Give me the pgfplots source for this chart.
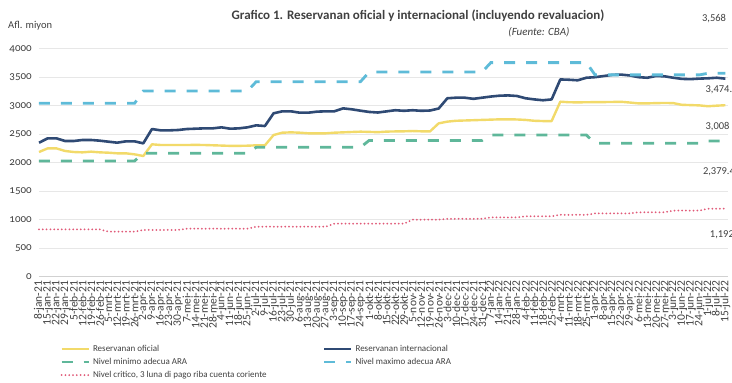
\documentclass[border=0pt]{standalone}
\usepackage{fontspec}
\setmainfont{Carlito}
\usepackage{pgfplots}
\pgfplotsset{compat=1.18}
\usepackage{pgfplotstable}
\definecolor{cofi}{HTML}{F2DA6A}
\definecolor{cint}{HTML}{2F4A74}
\definecolor{cmin}{HTML}{5FB79A}
\definecolor{cmax}{HTML}{5EBBD8}
\definecolor{ccrit}{HTML}{E05A78}
\definecolor{cgrid}{HTML}{E7E7E7}
\definecolor{ctext}{HTML}{404040}
\pgfplotstableread{
i ofi int min max crit
0 2187 2350 2030 3041 830
1 2251 2427 2030 3041 830
2 2251 2427 2030 3041 830
3 2205 2380 2030 3041 830
4 2187 2380 2030 3041 830
5 2181 2398 2030 3041 830
6 2193 2398 2030 3041 830
7 2181 2386 2030 3041 830
8 2175 2368 2030 3041 790
9 2164 2351 2030 3041 790
10 2164 2374 2030 3041 790
11 2146 2374 2030 3041 790
12 2117 2339 2165 3257 819
13 2322 2590 2165 3257 819
14 2310 2567 2165 3257 819
15 2310 2567 2165 3257 819
16 2310 2573 2165 3257 819
17 2310 2590 2165 3257 842
18 2312 2596 2165 3257 842
19 2310 2602 2165 3257 842
20 2305 2602 2165 3257 842
21 2300 2620 2165 3257 842
22 2295 2596 2165 3257 842
23 2295 2602 2165 3257 842
24 2298 2620 2165 3257 842
25 2304 2655 2270 3421 877
26 2304 2643 2270 3421 877
27 2485 2866 2270 3421 877
28 2526 2901 2270 3421 877
29 2532 2901 2270 3421 877
30 2526 2877 2270 3421 877
31 2515 2877 2270 3421 877
32 2515 2895 2270 3421 877
33 2515 2901 2270 3421 877
34 2526 2901 2270 3421 930
35 2532 2953 2270 3421 930
36 2538 2936 2270 3421 930
37 2544 2912 2270 3421 930
38 2540 2890 2390 3590 930
39 2535 2880 2390 3590 930
40 2545 2900 2390 3590 930
41 2548 2920 2390 3590 930
42 2550 2910 2390 3590 930
43 2555 2920 2390 3590 1000
44 2550 2910 2390 3590 1000
45 2548 2915 2390 3590 1000
46 2690 2950 2390 3590 1000
47 2720 3130 2390 3590 1015
48 2735 3140 2390 3590 1015
49 2740 3140 2390 3590 1015
50 2745 3120 2390 3590 1015
51 2750 3140 2390 3590 1015
52 2755 3160 2485 3755 1040
53 2760 3175 2485 3755 1040
54 2760 3180 2485 3755 1040
55 2758 3170 2485 3755 1040
56 2750 3130 2485 3755 1060
57 2735 3110 2485 3755 1060
58 2730 3095 2485 3755 1060
59 2730 3110 2485 3755 1060
60 3070 3460 2485 3755 1085
61 3060 3455 2485 3755 1085
62 3058 3445 2485 3755 1085
63 3060 3490 2485 3755 1085
64 3062 3500 2340 3540 1110
65 3063 3520 2340 3540 1110
66 3065 3540 2340 3540 1110
67 3068 3545 2340 3540 1110
68 3055 3530 2340 3540 1110
69 3040 3500 2340 3540 1130
70 3040 3490 2340 3540 1130
71 3045 3520 2340 3540 1130
72 3047 3515 2340 3540 1130
73 3045 3490 2340 3540 1160
74 3015 3470 2340 3540 1160
75 3010 3465 2340 3540 1160
76 3005 3475 2340 3540 1160
77 2990 3480 2379 3568 1192
78 3000 3490 2379 3568 1192
79 3008 3474 2379 3568 1192
}\data
\begin{document}
\begin{tikzpicture}
\useasboundingbox (-39pt,-106.33pt) rectangle (693pt,276.67pt);
\begin{axis}[
  width=689pt, height=228pt, scale only axis,
  xmin=0, xmax=79.3, ymin=0, ymax=4000,
  axis x line*=bottom, axis y line*=left,
  x axis line style={draw=black!18, line width=0.6pt, -},
  y axis line style={draw=none},
  ytick={0,500,...,4000},
  ymajorgrids, grid style={draw=cgrid, line width=0.6pt},
  major tick length=0pt,
  /pgf/number format/assume math mode=true,
  /pgf/number format/set thousands separator={},
  yticklabel style={font=\fontsize{11}{12}\selectfont\addfontfeatures{Numbers=OldStyle}, text=ctext, anchor=east, inner sep=0pt},
  yticklabel shift=7pt,
  xtick={0,...,79},
  xticklabels={8-jan-21,15-jan-21,22-jan-21,29-jan-21,5-feb-21,12-feb-21,19-feb-21,26-feb-21,5-mrt-21,12-mrt-21,19-mrt-21,26-mrt-21,2-apr-21,9-apr-21,16-apr-21,23-apr-21,30-apr-21,7-mei-21,14-mei-21,21-mei-21,28-mei-21,4-jun-21,11-jun-21,18-jun-21,25-jun-21,2-jul-21,9-jul-21,16-jul-21,23-jul-21,30-jul-21,6-aug-21,13-aug-21,20-aug-21,27-aug-21,3-sep-21,10-sep-21,17-sep-21,24-sep-21,1-okt-21,8-okt-21,15-okt-21,22-okt-21,29-okt-21,5-nov-21,12-nov-21,19-nov-21,26-nov-21,3-dec-21,10-dec-21,17-dec-21,24-dec-21,31-dec-21,7-jan-22,14-jan-22,21-jan-22,28-jan-22,4-feb-22,11-feb-22,18-feb-22,25-feb-22,4-mrt-22,11-mrt-22,18-mrt-22,25-mrt-22,1-apr-22,8-apr-22,15-apr-22,22-apr-22,29-apr-22,6-mei-22,13-mei-22,20-mei-22,27-mei-22,3-jun-22,10-jun-22,17-jun-22,24-jun-22,1-jul-22,8-jul-22,15-jul-22},
  xticklabel style={rotate=90, anchor=east, inner sep=0pt, font=\fontsize{11.5}{11.5}\selectfont, text=ctext},
  xticklabel shift=4pt,
  clip=false,
  legend columns=2,
  legend cell align=left,
  legend image code/.code={\draw[#1] (0pt,0pt) -- (27pt,0pt);},
  legend style={at={(0.0305,-0.295)}, anchor=north west, draw=none, fill=none,
    font=\fontsize{9}{10}\selectfont, text=ctext, inner sep=0pt,
    row sep=3.3pt,
    nodes={inner sep=1pt},
    /tikz/every odd column/.append style={column sep=2pt},
    /tikz/every even column/.append style={column sep=55pt}},
]
\addplot[cofi, line width=2.4pt, line join=round] table[x=i, y=ofi] {\data};
\addlegendentry{Reservanan oficial}
\addplot[cint, line width=2.6pt, line join=round] table[x=i, y=int] {\data};
\addlegendentry{Reservanan internacional}
\addplot[cmin, line width=2.8pt, dash pattern=on 11pt off 11pt] table[x=i, y=min] {\data};
\addlegendentry{Nivel minimo adecua ARA}
\addplot[cmax, line width=2.8pt, dash pattern=on 11pt off 11pt] table[x=i, y=max] {\data};
\addlegendentry{Nivel maximo adecua ARA}
\addplot[ccrit, line width=2pt, line cap=round, dash pattern=on 0pt off 3.8pt] table[x=i, y=crit] {\data};
\addlegendentry{Nivel critico, 3 luna di pago riba cuenta coriente}
\node[anchor=west, inner sep=0pt, font=\fontsize{10.5}{12}\selectfont, text=ctext] at (axis cs:76.3,4520) {3,568};
\node[anchor=west, inner sep=0pt, font=\fontsize{10.5}{12}\selectfont, text=ctext] at (axis cs:76.7,3275) {3,474.4};
\node[anchor=west, inner sep=0pt, font=\fontsize{10.5}{12}\selectfont, text=ctext] at (axis cs:76.7,2626) {3,008};
\node[anchor=west, inner sep=0pt, font=\fontsize{10.5}{12}\selectfont, text=ctext] at (axis cs:76.4,1836) {2,379.4};
\node[anchor=west, inner sep=0pt, font=\fontsize{10.5}{12}\selectfont, text=ctext] at (axis cs:77.2,731) {1,192};
\end{axis}
\node[font=\bfseries\fontsize{13}{15}\selectfont, text=ctext] at (379pt,260.67pt) {Grafico 1. Reservanan oficial y internacional (incluyendo revaluacion)};
\node[font=\itshape\fontsize{11}{13}\selectfont, text=ctext] at (500pt,244.4pt) {(Fuente: CBA)};
\node[anchor=west, inner sep=0pt, font=\fontsize{10.5}{12}\selectfont, text=ctext] at (-31pt,250.67pt) {Afl. miyon};
\end{tikzpicture}
\end{document}
